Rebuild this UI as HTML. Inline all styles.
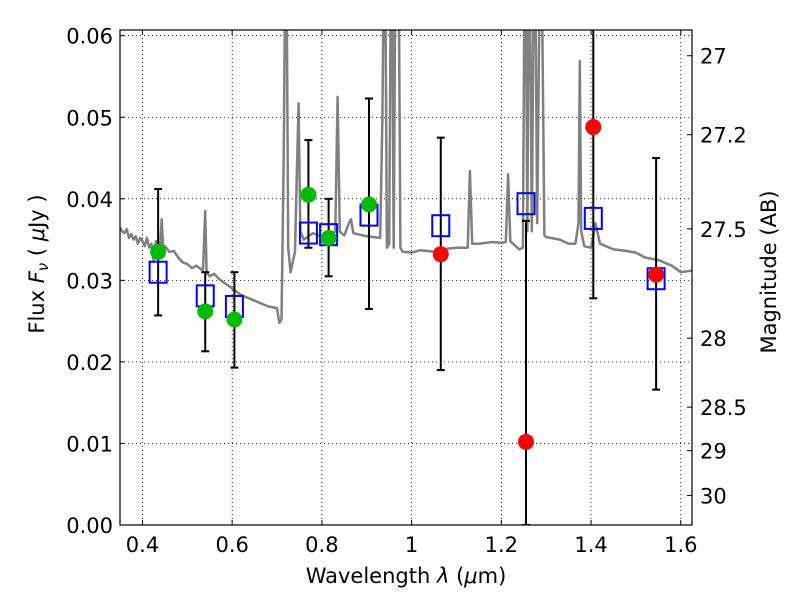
<!DOCTYPE html>
<html><head><meta charset="utf-8"><style>
body{margin:0;background:#fff;}
svg{display:block;font-family:"DejaVu Sans","Liberation Sans",sans-serif;}
</style></head><body>
<svg id="chart" width="800" height="600" viewBox="0 0 800 600" xmlns="http://www.w3.org/2000/svg">
<defs><clipPath id="plotclip"><rect x="120" y="30" width="572" height="495"/></clipPath></defs>
<rect x="0" y="0" width="800" height="600" fill="#fff"/>
<g id="grid"></g>
<g id="spec" clip-path="url(#plotclip)"></g>
<g id="errs" clip-path="url(#plotclip)"></g>
<g id="marks" clip-path="url(#plotclip)"></g>
<rect x="120" y="30" width="572" height="495" fill="none" stroke="#000" stroke-width="1.2"/>
<g id="axes"></g>
<text x="406" y="583" font-size="21" text-anchor="middle">Wavelength  <tspan font-style="italic">λ</tspan> (<tspan font-style="italic">μ</tspan>m)</text>
<text transform="translate(44,264) rotate(-90)" font-size="21" text-anchor="middle">Flux  <tspan font-style="italic">F</tspan><tspan font-style="italic" font-size="15" dy="4">ν</tspan><tspan dy="-4">  ( </tspan><tspan font-style="italic">μ</tspan>Jy )</text>
<text transform="translate(776,272) rotate(-90)" font-size="21" text-anchor="middle">Magnitude (AB)</text>
</svg>
<script>
const xTicks=[0.4,0.6,0.8,1.0,1.2,1.4,1.6];
const xTickLabels=["0.4","0.6","0.8","1","1.2","1.4","1.6"];
const yTicks=[0,0.01,0.02,0.03,0.04,0.05,0.06];
const yTickLabels=["0.00","0.01","0.02","0.03","0.04","0.05","0.06"];
const magTicks=[27,27.2,27.5,28,28.5,29,30];
const magTickLabels=["27","27.2","27.5","28","28.5","29","30"];
const specWl=[0.35,0.355,0.36,0.365,0.37,0.375,0.38,0.385,0.39,0.395,0.40,0.405,0.41,0.415,0.42,0.425,0.43,0.44,0.443,0.446,0.45,0.46,0.47,0.48,0.49,0.5,0.51,0.52,0.535,0.54,0.543,0.55,0.56,0.57,0.58,0.6,0.62,0.65,0.68,0.7,0.705,0.71,0.715,0.72,0.725,0.73,0.74,0.745,0.748,0.752,0.76,0.78,0.8,0.82,0.83,0.835,0.84,0.85,0.86,0.865,0.87,0.9,0.93,0.935,0.94,0.945,0.95,0.955,0.96,0.965,0.97,0.975,0.98,1.0,1.02,1.05,1.08,1.1,1.125,1.13,1.135,1.15,1.18,1.2,1.21,1.215,1.22,1.24,1.248,1.253,1.258,1.262,1.268,1.274,1.28,1.288,1.296,1.3,1.33,1.35,1.365,1.372,1.375,1.378,1.385,1.4,1.41,1.42,1.45,1.48,1.5,1.52,1.55,1.58,1.6,1.625];
const specFl=[0.0365,0.036,0.0358,0.0363,0.0352,0.0357,0.035,0.0354,0.0345,0.0352,0.0348,0.0342,0.0352,0.034,0.0345,0.0325,0.0348,0.0345,0.0375,0.034,0.0342,0.0335,0.0336,0.0328,0.0322,0.032,0.0315,0.0318,0.0312,0.0385,0.031,0.0305,0.0308,0.0302,0.0298,0.029,0.0282,0.0275,0.0268,0.0266,0.0248,0.0252,0.045,0.08,0.034,0.031,0.0335,0.045,0.0517,0.036,0.035,0.0358,0.0353,0.0357,0.036,0.0525,0.036,0.0355,0.037,0.0375,0.0358,0.0354,0.0352,0.05,0.08,0.034,0.0345,0.08,0.034,0.08,0.08,0.034,0.0335,0.0334,0.0337,0.0335,0.0339,0.034,0.034,0.0434,0.0345,0.0345,0.0347,0.0346,0.0347,0.043,0.0348,0.0338,0.034,0.08,0.036,0.08,0.036,0.08,0.037,0.08,0.0355,0.0353,0.035,0.0345,0.0345,0.037,0.0569,0.036,0.0342,0.034,0.037,0.0345,0.0338,0.0336,0.0334,0.0328,0.0325,0.0318,0.031,0.0312];
const bandX=[0.435,0.54,0.605,0.77,0.815,0.905,1.065,1.255,1.405,1.545];
const modelFlux=[0.031,0.0281,0.0268,0.0358,0.0356,0.038,0.0367,0.0394,0.0376,0.0302];
const errLow=[0.0257,0.0213,0.0193,0.034,0.0305,0.0265,0.019,0.0,0.0278,0.0166];
const errHigh=[0.0412,0.031,0.031,0.0472,0.04,0.0523,0.0475,0.0373,0.075,0.045];
const greenX=[0.435,0.54,0.605,0.77,0.815,0.905];
const greenFlux=[0.0335,0.0262,0.0252,0.0405,0.0352,0.0393];
const redX=[1.065,1.255,1.405,1.545];
const redFlux=[0.0332,0.0102,0.0488,0.0307];

const X0=120,X1=692,Y0=525,Y1=30,XMIN=0.35,XMAX=1.625,YMIN=0,YMAX=0.0607;
function sx(v){return X0+(v-XMIN)/(XMAX-XMIN)*(X1-X0);}
function sy(v){return Y0-(v-YMIN)/(YMAX-YMIN)*(Y0-Y1);}
function magToFlux(m){return Math.pow(10,(23.9-m)/2.5);}
const NS="http://www.w3.org/2000/svg";
function mk(tag,attrs,parent){const e=document.createElementNS(NS,tag);for(const k in attrs)e.setAttribute(k,attrs[k]);parent.appendChild(e);return e;}
const grid=document.getElementById('grid'),axes=document.getElementById('axes');
xTicks.forEach((t,i)=>{
  const x=sx(t);
  const g=mk('line',{x1:x,x2:x,y1:Y1,y2:Y0,stroke:'#000','stroke-width':0.8,'stroke-dasharray':'1,3'},grid);
  
  
  mk('line',{x1:x,x2:x,y1:Y0,y2:Y0-5,stroke:'#000'},axes);
  mk('line',{x1:x,x2:x,y1:Y1,y2:Y1+5,stroke:'#000'},axes);
  const tx=mk('text',{x:x,y:Y0+27,'font-size':21,'text-anchor':'middle'},axes);
  tx.textContent=xTickLabels[i];
  
  
});
yTicks.forEach((t,i)=>{
  const y=sy(t);
  const g=mk('line',{x1:X0,x2:X1,y1:y,y2:y,stroke:'#000','stroke-width':0.8,'stroke-dasharray':'1,3'},grid);
  
  
  mk('line',{x1:X0,x2:X0+5,y1:y,y2:y,stroke:'#000'},axes);
  const tx=mk('text',{x:X0-7,y:y+8,'font-size':21,'text-anchor':'end'},axes);
  tx.textContent=yTickLabels[i];
  
  
});
magTicks.forEach((m,i)=>{
  const y=sy(magToFlux(m));
  mk('line',{x1:X1,x2:X1-5,y1:y,y2:y,stroke:'#000'},axes);
  const tx=mk('text',{x:X1+8,y:y+8,'font-size':21,'text-anchor':'start'},axes);
  tx.textContent=magTickLabels[i];
  
  
});
const spec=document.getElementById('spec');
const pts=specWl.map((w,i)=>sx(w).toFixed(1)+','+sy(specFl[i]).toFixed(1)).join(' ');
const pl=mk('polyline',{points:pts,fill:'none',stroke:'#808080','stroke-width':2.5,'stroke-linejoin':'round'},spec);


const errs=document.getElementById('errs');
bandX.forEach((b,i)=>{
  const x=sx(b),ya=sy(errLow[i]),yb=sy(errHigh[i]);
  const l=mk('line',{x1:x,x2:x,y1:ya,y2:yb,stroke:'#000','stroke-width':2},errs);
  
  
  mk('line',{x1:x-4,x2:x+4,y1:ya,y2:ya,stroke:'#000','stroke-width':2},errs);
  mk('line',{x1:x-4,x2:x+4,y1:yb,y2:yb,stroke:'#000','stroke-width':2},errs);
});
const marks=document.getElementById('marks');
bandX.forEach((b,i)=>{
  const r=mk('rect',{x:sx(b)-8.5,y:sy(modelFlux[i])-10.5,width:17,height:21,fill:'none',stroke:'#0000ff','stroke-width':2},marks);
  
  
});
greenX.forEach((b,i)=>{
  const c=mk('circle',{cx:sx(b),cy:sy(greenFlux[i]),r:8,fill:'#00bb00'},marks);
  
  
});
redX.forEach((b,i)=>{
  const c=mk('circle',{cx:sx(b),cy:sy(redFlux[i]),r:8,fill:'#ff0000'},marks);
  
  
});
</script>
</body></html>
